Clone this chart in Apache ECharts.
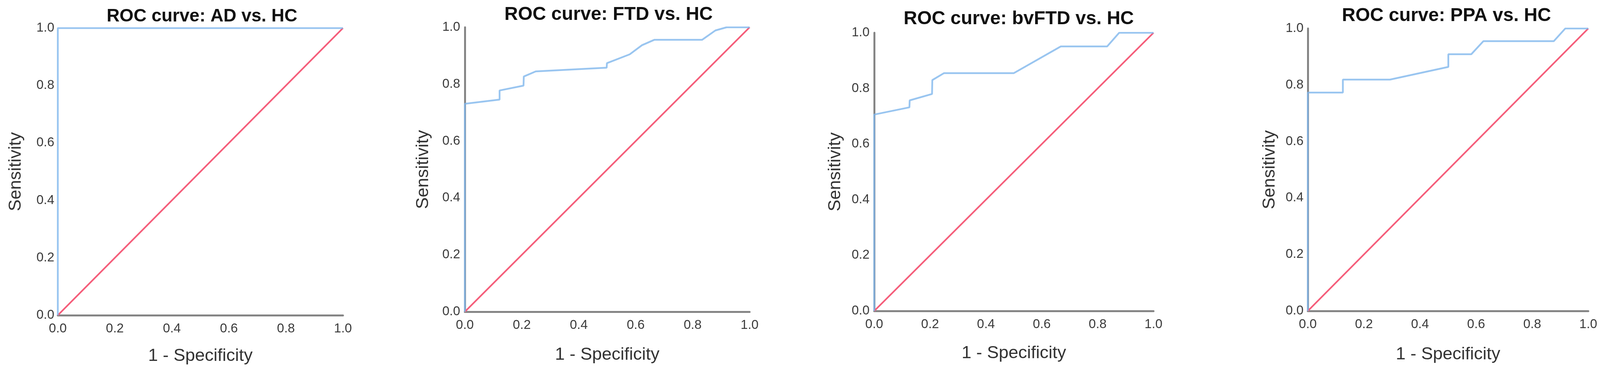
<!DOCTYPE html>
<html>
<head>
<meta charset="utf-8">
<script src="https://cdn.jsdelivr.net/npm/echarts@6/dist/echarts.min.js"></script>
<style>
  html, body { margin: 0; padding: 0; background: #ffffff; overflow: hidden; }
  #chart { width: 4124px; height: 956px; }
</style>
</head>
<body>
<div id="chart"></div>
<script>
// ---- Data ----
const titles = ['ROC curve: AD vs. HC', 'ROC curve: FTD vs. HC', 'ROC curve: bvFTD vs. HC', 'ROC curve: PPA vs. HC'];
const xAxisTitle = '1 - Specificity';
const yAxisTitle = 'Sensitivity';
const tickLabels = ['0.0', '0.2', '0.4', '0.6', '0.8', '1.0'];

// Reference (chance) line
const refX = [0, 1];
const refY = [0, 1];

// AD vs. HC
const adFpr = [0, 0, 1];
const adTpr = [0, 1, 1];

// FTD vs. HC
const ftdFpr = [0, 0, 0.122, 0.122, 0.206, 0.207, 0.249, 0.498, 0.499, 0.579, 0.622, 0.665, 0.833, 0.880, 0.919, 1];
const ftdTpr = [0, 0.731, 0.746, 0.778, 0.795, 0.827, 0.845, 0.858, 0.874, 0.905, 0.937, 0.956, 0.956, 0.989, 1, 1];

// bvFTD vs. HC
const bvFpr = [0, 0, 0.126, 0.127, 0.207, 0.208, 0.250, 0.500, 0.668, 0.834, 0.877, 1];
const bvTpr = [0, 0.706, 0.732, 0.757, 0.780, 0.830, 0.855, 0.855, 0.951, 0.951, 1, 1];

// PPA vs. HC
const ppaFpr = [0, 0, 0.125, 0.125, 0.293, 0.501, 0.501, 0.583, 0.626, 0.877, 0.918, 1];
const ppaTpr = [0, 0.773, 0.773, 0.819, 0.819, 0.864, 0.909, 0.909, 0.955, 0.955, 1, 1];

// ---- Layout / style ----
const FONT = '"Liberation Sans", Arial, Helvetica, sans-serif';
const BLUE = '#80b6ec';
const RED = '#f55d7a';
const AXIS = '#858585';

const layout = [
  { left: 148,  top: 72, width: 730, height: 736, titleX: 517,  titleY: 42, titleSize: 46, yGap: 85, xGap: 82, yLabelMargin: 9,  showYLine: false },
  { left: 1190, top: 70, width: 729, height: 729, titleX: 1558, titleY: 38, titleSize: 48, yGap: 84, xGap: 88, yLabelMargin: 12, showYLine: true },
  { left: 2238, top: 84, width: 715, height: 713, titleX: 2608, titleY: 49, titleSize: 48, yGap: 77, xGap: 86, yLabelMargin: 12, showYLine: true },
  { left: 3348, top: 73, width: 718, height: 724, titleX: 3703, titleY: 41, titleSize: 48, yGap: 75, xGap: 89, yLabelMargin: 11, showYLine: true }
];

const curves = [
  [adFpr, adTpr],
  [ftdFpr, ftdTpr],
  [bvFpr, bvTpr],
  [ppaFpr, ppaTpr]
];

function pairs(xs, ys) { return xs.map((x, i) => [x, ys[i]]); }
function tickFmt(v) { return tickLabels[Math.round(v / 0.2)] ?? v.toFixed(1); }

const grid = [], xAxis = [], yAxis = [], series = [], graphic = [];

layout.forEach((L, i) => {
  grid.push({ left: L.left, top: L.top, width: L.width, height: L.height, containLabel: false });
  const common = {
    type: 'value', min: 0, max: 1, interval: 0.2, gridIndex: i,
    splitLine: { show: false },
    axisTick: { show: false },
    nameLocation: 'middle',
    nameTextStyle: { fontSize: 45, color: '#333333', fontFamily: FONT },
  };
  xAxis.push(Object.assign({}, common, {
    name: xAxisTitle, nameGap: L.xGap,
    axisLine: { show: true, onZero: false, lineStyle: { color: AXIS, width: 5 } },
    axisLabel: { fontSize: 33, color: '#3a3a3a', fontFamily: FONT, margin: 18, formatter: tickFmt }
  }));
  yAxis.push(Object.assign({}, common, {
    name: yAxisTitle, nameGap: L.yGap,
    axisLine: { show: L.showYLine, onZero: false, lineStyle: { color: AXIS, width: 5 } },
    axisLabel: { fontSize: 33, color: '#3a3a3a', fontFamily: FONT, margin: L.yLabelMargin, formatter: tickFmt }
  }));
  series.push({
    type: 'line', xAxisIndex: i, yAxisIndex: i, data: pairs(refX, refY),
    showSymbol: false, silent: true, z: 2,
    lineStyle: { color: RED, width: 4 }
  });
  series.push({
    type: 'line', xAxisIndex: i, yAxisIndex: i, data: pairs(curves[i][0], curves[i][1]),
    showSymbol: false, silent: true, z: 3,
    lineStyle: { color: BLUE, width: 4.5, opacity: 0.8 }
  });
  graphic.push({
    type: 'text', x: L.titleX, y: L.titleY, silent: true,
    style: {
      text: titles[i], fill: '#111111', fontSize: L.titleSize, fontWeight: 'bold',
      fontFamily: FONT, align: 'center', verticalAlign: 'middle'
    }
  });
});

const chart = echarts.init(document.getElementById('chart'), null, { renderer: 'canvas' });
chart.setOption({
  backgroundColor: '#ffffff',
  animation: false,
  grid, xAxis, yAxis, series, graphic
});
</script>
</body>
</html>
